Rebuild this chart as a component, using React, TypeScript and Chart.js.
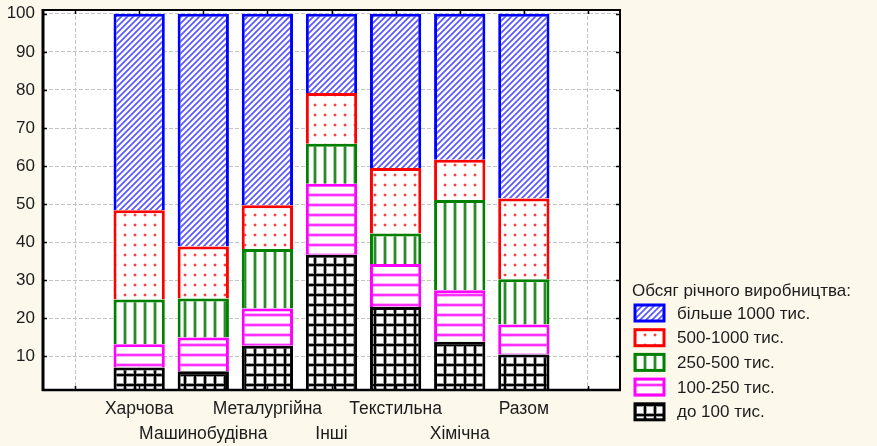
import { useEffect, useRef } from 'react';
import { Chart, registerables } from 'chart.js';

Chart.register(...registerables);

// ---- data ----
const categories = ['Харчова', 'Машинобудівна', 'Металургійна', 'Інші', 'Текстильна', 'Хімічна', 'Разом'];
const seriesNames = ['до 100 тис.', '100-250 тис.', '250-500 тис.', '500-1000 тис.', 'більше 1000 тис.'];
const under100 = [7.1, 6.1, 12.8, 36.7, 23.0, 13.9, 10.5];
const from100to250 = [6.1, 8.9, 9.8, 18.7, 11.3, 13.5, 7.9];
const from250to500 = [11.8, 10.2, 15.6, 10.5, 8.0, 23.7, 11.9];
const from500to1000 = [23.4, 13.7, 11.5, 13.3, 17.2, 10.6, 21.2];
const over1000 = [51.6, 61.1, 50.3, 20.8, 40.5, 38.3, 48.5];
const yTicks = [10, 20, 30, 40, 50, 60, 70, 80, 90, 100];
const legendTitle = 'Обсяг річного виробництва:';

const FONT = "'Liberation Sans', Arial, sans-serif";
const CREAM = '#fdf8ec';
const TEXT = '#1c1c1c';

type Kind = 'grid' | 'hlines' | 'vlines' | 'dots' | 'diag';

function makePattern(kind: Kind): CanvasPattern | string {
  const c = document.createElement('canvas');
  const size = kind === 'diag' ? 6 : 10;
  c.width = size;
  c.height = size;
  const g = c.getContext('2d');
  if (!g) return '#fff';
  g.fillStyle = '#ffffff';
  g.fillRect(0, 0, size, size);
  if (kind === 'diag') {
    g.strokeStyle = '#5c5cff';
    g.lineWidth = 1.8;
    g.beginPath();
    g.moveTo(-1, size + 1);
    g.lineTo(size + 1, -1);
    g.moveTo(-1, 1);
    g.lineTo(1, -1);
    g.moveTo(size - 1, size + 1);
    g.lineTo(size + 1, size - 1);
    g.stroke();
  } else if (kind === 'dots') {
    g.fillStyle = '#ffc8c8';
    g.fillRect(4, 3, 2, 1);
    g.fillRect(4, 6, 2, 1);
    g.fillRect(3, 4, 1, 2);
    g.fillRect(6, 4, 1, 2);
    g.fillStyle = '#ff4040';
    g.fillRect(4, 4, 2, 2);
  } else if (kind === 'vlines') {
    g.fillStyle = '#a8d4a8';
    g.fillRect(3, 0, 1, size);
    g.fillRect(6, 0, 1, size);
    g.fillStyle = '#2a8a2a';
    g.fillRect(4, 0, 2, size);
  } else if (kind === 'hlines') {
    g.fillStyle = '#ffb4ff';
    g.fillRect(0, 3, size, 1);
    g.fillRect(0, 6, size, 1);
    g.fillStyle = '#ff30ff';
    g.fillRect(0, 4, size, 2);
  } else if (kind === 'grid') {
    g.fillStyle = '#9a9a9a';
    g.fillRect(3, 0, 1, size);
    g.fillRect(6, 0, 1, size);
    g.fillRect(0, 3, size, 1);
    g.fillRect(0, 6, size, 1);
    g.fillStyle = '#000000';
    g.fillRect(4, 0, 2, size);
    g.fillRect(0, 4, size, 2);
  }
  const p = g.createPattern(c, 'repeat');
  return p || '#fff';
}

export default function App() {
  const ref = useRef<HTMLCanvasElement | null>(null);

  useEffect(() => {
    if (!ref.current) return;
    const labels = ['', ...categories, ''];
    const pad = (a: number[]) => [null, ...a, null];
    const values = [under100, from100to250, from250to500, from500to1000, over1000];
    const kinds: Kind[] = ['grid', 'hlines', 'vlines', 'dots', 'diag'];
    const borders = ['#000000', '#ff00ff', '#008000', '#ff0000', '#0000ff'];

    const datasets = values.map((v, i) => ({
      label: seriesNames[i],
      data: pad(v),
      backgroundColor: makePattern(kinds[i]),
      borderColor: borders[i],
      borderWidth: 3,
      barPercentage: 0.8,
      categoryPercentage: 1,
    }));

    const bgPlugin = {
      id: 'bg',
      beforeDraw(chart: any) {
        const { ctx, chartArea } = chart;
        ctx.save();
        ctx.fillStyle = CREAM;
        ctx.fillRect(0, 0, chart.width, chart.height);
        ctx.fillStyle = '#ffffff';
        ctx.fillRect(chartArea.left, chartArea.top, chartArea.right - chartArea.left, chartArea.bottom - chartArea.top);
        ctx.restore();
      },
    };

    const framePlugin = {
      id: 'frame',
      afterDraw(chart: any) {
        const { ctx, chartArea } = chart;
        const { left, right, top, bottom } = chartArea;
        const xs = chart.scales.x;
        const ys = chart.scales.y;
        ctx.save();
        ctx.strokeStyle = '#000';
        const line = (x1: number, y1: number, x2: number, y2: number, w: number) => {
          ctx.lineWidth = w;
          ctx.beginPath();
          ctx.moveTo(x1, y1);
          ctx.lineTo(x2, y2);
          ctx.stroke();
        };
        line(left - 1, top, right + 1, top, 2);
        line(right, top, right, bottom, 2);
        line(left - 1, bottom, right + 1, bottom, 2.5);
        line(left, top - 1, left, bottom + 1, 3);
        yTicks.forEach((v) => {
          const py = Math.round(ys.getPixelForValue(v)) + 0.5;
          line(left, py, left + 4, py, 1.5);
          line(right - 4, py, right, py, 1.5);
        });
        labels.forEach((_, i) => {
          const px = Math.round(xs.getPixelForValue(i)) + 0.5;
          line(px, bottom, px, bottom - 4, 1.5);
          line(px, top, px, top + 4, 1.5);
        });
        ctx.restore();
      },
    };

    const legendPlugin = {
      id: 'customLegend',
      afterDraw(chart: any) {
        const { ctx } = chart;
        ctx.save();
        ctx.font = `17px ${FONT}`;
        ctx.fillStyle = TEXT;
        ctx.textBaseline = 'middle';
        ctx.textAlign = 'left';
        ctx.fillText(legendTitle, 632, 291);
        const ds = chart.data.datasets.slice().reverse();
        ds.forEach((d: any, i: number) => {
          const cy = 313 + i * 24.7;
          const bx = 635;
          const by = cy - 8;
          ctx.fillStyle = d.backgroundColor;
          ctx.fillRect(bx, by, 29, 16);
          ctx.strokeStyle = d.borderColor;
          ctx.lineWidth = 3;
          ctx.strokeRect(bx, by, 29, 16);
          ctx.fillStyle = TEXT;
          ctx.fillText(d.label, 677, cy + 1);
        });
        ctx.restore();
      },
    };

    const chart = new Chart(ref.current, {
      type: 'bar',
      data: { labels, datasets: datasets as any },
      options: {
        responsive: false,
        animation: false,
        layout: { padding: { top: 10, right: 257, left: 0, bottom: 0 } },
        plugins: {
          legend: { display: false },
          tooltip: { enabled: false },
        },
        scales: {
          x: {
            stacked: true,
            offset: true,
            grid: { display: true, color: '#c4c4c4', lineWidth: 1, drawTicks: false, offset: false },
            border: { display: false, dash: [4, 2] },
            ticks: {
              autoSkip: false,
              maxRotation: 0,
              minRotation: 0,
              padding: 7,
              color: TEXT,
              font: { family: FONT, size: 17.5, lineHeight: 25 / 17.5 },
              callback: (_v: any, idx: number) => {
                const l = labels[idx];
                if (!l) return '';
                return idx % 2 === 1 ? [l, ''] : ['', l];
              },
            },
            afterFit: (s: any) => {
              s.height = 56;
              s.paddingLeft = 0;
              s.paddingRight = 0;
            },
          },
          y: {
            stacked: true,
            min: 1.2,
            max: 101,
            afterBuildTicks: (s: any) => {
              s.ticks = yTicks.map((v) => ({ value: v }));
            },
            grid: { color: '#c4c4c4', lineWidth: 1, drawTicks: false },
            border: { display: false, dash: [4, 2] },
            ticks: {
              padding: 8,
              color: TEXT,
              font: { family: FONT, size: 17 },
            },
            afterFit: (s: any) => {
              s.width = 43;
              s.paddingTop = 0;
              s.paddingBottom = 0;
            },
          },
        },
      } as any,
      plugins: [bgPlugin, framePlugin, legendPlugin],
    });
    return () => chart.destroy();
  }, []);

  return (
    <div style={{ position: 'fixed', left: 0, top: 0, width: 877, height: 446, background: CREAM }}>
      <canvas ref={ref} width={877} height={446} style={{ display: 'block', width: 877, height: 446 }} />
    </div>
  );
}
